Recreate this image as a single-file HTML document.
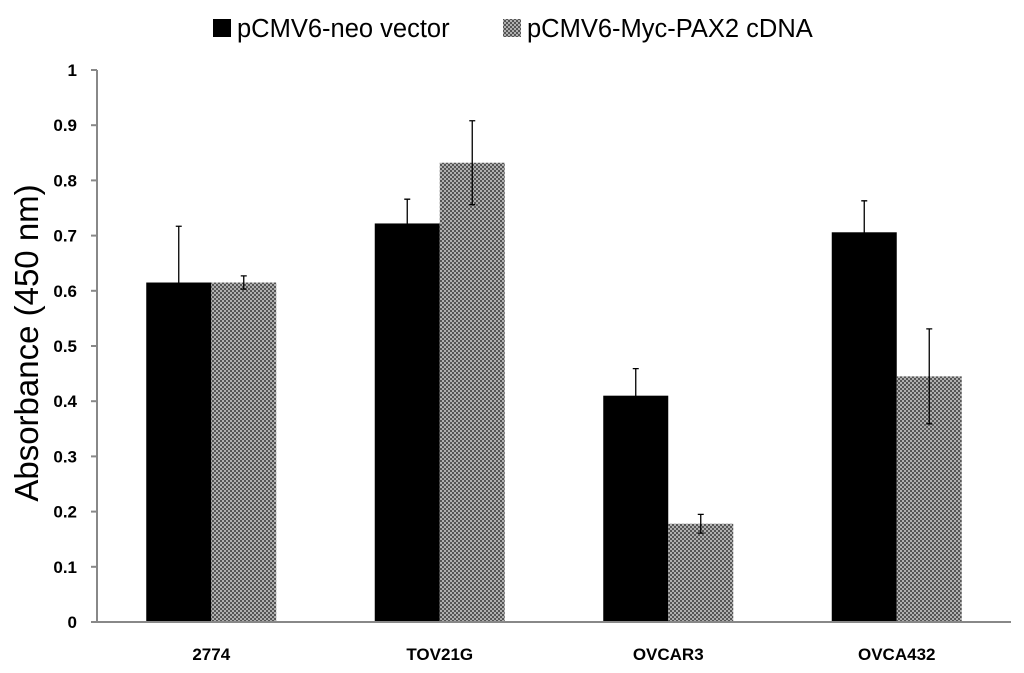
<!DOCTYPE html>
<html><head><meta charset="utf-8"><style>
body{margin:0;background:#fff;}
svg{display:block;font-family:"Liberation Sans",Arial,sans-serif;}
</style></head><body>
<svg id="chart" width="1024" height="673">
<defs>
<pattern id="chk" width="4" height="4" patternUnits="userSpaceOnUse">
<rect width="4" height="4" fill="#b0b0b0"/>
<rect width="2" height="2" fill="#555"/>
<rect x="2" y="2" width="2" height="2" fill="#555"/>
</pattern>
</defs>
<g>
<rect x="213" y="19" width="18" height="18" fill="#000"/>
<text x="237" y="37" font-size="25.5" fill="#000">pCMV6-neo vector</text>
<rect x="503" y="19" width="18" height="18" fill="url(#chk)"/>
<text x="527" y="37" font-size="25.5" fill="#000">pCMV6-Myc-PAX2 cDNA</text>
</g>
<text transform="translate(38,343) rotate(-90)" text-anchor="middle" font-size="33" fill="#000">Absorbance (450 nm)</text>
<g id="plot"></g>
</svg>
<script>
const categories=["2774","TOV21G","OVCAR3","OVCA432"];
const neoValues=[0.615,0.722,0.41,0.706];
const neoErrors=[0.102,0.044,0.049,0.057];
const paxValues=[0.615,0.832,0.178,0.445];
const paxErrors=[0.012,0.076,0.017,0.086];
const yTicks=[0,0.1,0.2,0.3,0.4,0.5,0.6,0.7,0.8,0.9,1];
const yTickLabels=["0","0.1","0.2","0.3","0.4","0.5","0.6","0.7","0.8","0.9","1"];

const X0=97,X1=1011,Y0=622,Y1=70;
const bw=(X1-X0)/categories.length;
const y=v=>Y0-(v/1)*(Y0-Y1);
const xc=i=>X0+bw*(i+0.5);
const g=document.getElementById('plot');
const NS="http://www.w3.org/2000/svg";
function mk(t,a){const e=document.createElementNS(NS,t);for(const k in a)e.setAttribute(k,a[k]);g.appendChild(e);return e;}
yTicks.forEach((v,i)=>{
  const l=mk('line',{x1:X0-6,x2:X0,y1:y(v),y2:y(v),stroke:'#888','stroke-width':2});
  
  
  const t=mk('text',{x:77,y:y(v)+6,'text-anchor':'end','font-size':17,'font-weight':'bold',fill:'#000'});
  t.textContent=yTickLabels[i];
  
  
});
const BW=65;
function bar(i,v,e,fill,off,name){
  const r=mk('rect',{x:xc(i)+off,y:y(v),width:BW,height:Y0-y(v),fill:fill});
  
  
  const cx=xc(i)+off+BW/2;
  const eb=mk('path',{d:`M${cx},${y(v-e)}V${y(v+e)}M${cx-3},${y(v+e)}H${cx+3}M${cx-3},${y(v-e)}H${cx+3}`,stroke:'#000','stroke-width':1.3,fill:'none'});
  
  
}
categories.forEach((c,i)=>{
  bar(i,neoValues[i],neoErrors[i],'#000',-BW,'bar-neo-'+c);
  bar(i,paxValues[i],paxErrors[i],'url(#chk)',0,'bar-pax2-'+c);
  const t=mk('text',{x:xc(i),y:660,'text-anchor':'middle','font-size':17,'font-weight':'bold',fill:'#000'});
  t.textContent=c;
  
  
});
const ax=mk('path',{d:`M${X0},${Y1}V${Y0}H${X1}`,stroke:'#888','stroke-width':2,fill:'none'});


</script>
</body></html>
